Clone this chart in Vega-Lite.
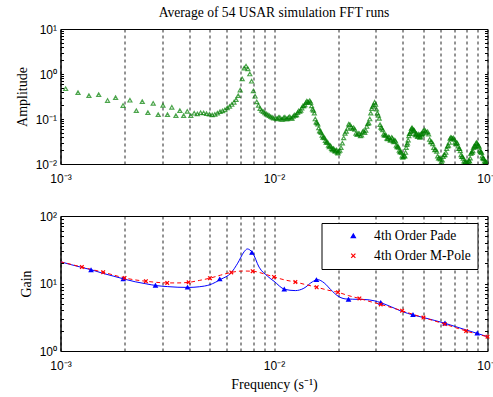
{
  "$schema": "https://vega.github.io/schema/vega-lite/v6.json",
  "padding": {"left": 14.5, "top": 5, "right": 4, "bottom": 2},
  "background": "white",
  "spacing": 24,
  "config": {
    "view": {"stroke": "black", "strokeWidth": 1},
    "axis": {"labelFont": "Liberation Sans", "labelFontSize": 12, "labelColor": "black", "titleFont": "Liberation Serif", "titleFontSize": 14, "titleFontWeight": "normal", "titleColor": "black", "domainColor": "black", "tickColor": "black", "grid": false, "labelFlush": false, "labelOverlap": false},
    "title": {"font": "Liberation Serif", "fontSize": 13.6, "fontWeight": "normal", "color": "black"},
    "legend": {"labelFont": "Liberation Serif", "labelFontSize": 13.6, "labelColor": "black", "strokeColor": "black", "fillColor": "white", "padding": 6, "symbolOffset": 19, "labelOffset": 14, "rowPadding": 5, "symbolSize": 18, "symbolStrokeWidth": 1.2, "cornerRadius": 0}
  },
  "datasets": {
    "top": [
      {"f":0.001057,"a":0.47},{"f":0.001208,"a":0.386},{"f":0.001359,"a":0.331},{"f":0.00151,"a":0.348},{"f":0.001661,"a":0.257},{"f":0.001812,"a":0.299},{"f":0.001963,"a":0.199},{"f":0.002114,"a":0.261},{"f":0.002265,"a":0.153},{"f":0.002416,"a":0.244},{"f":0.002567,"a":0.139},{"f":0.002718,"a":0.223},{"f":0.002869,"a":0.125},{"f":0.00302,"a":0.201},{"f":0.003171,"a":0.125},{"f":0.003322,"a":0.182},{"f":0.003473,"a":0.119},{"f":0.003624,"a":0.154},{"f":0.003775,"a":0.119},{"f":0.003926,"a":0.148},{"f":0.004077,"a":0.118},{"f":0.004228,"a":0.134},{"f":0.004379,"a":0.13},{"f":0.00453,"a":0.138},{"f":0.004681,"a":0.136},{"f":0.004832,"a":0.132},{"f":0.004983,"a":0.128},{"f":0.005134,"a":0.123},{"f":0.005285,"a":0.127},{"f":0.005436,"a":0.135},{"f":0.005587,"a":0.146},{"f":0.005738,"a":0.152},{"f":0.005889,"a":0.16},{"f":0.00604,"a":0.176},{"f":0.006191,"a":0.19},{"f":0.006342,"a":0.21},{"f":0.006493,"a":0.235},{"f":0.006644,"a":0.27},{"f":0.006795,"a":0.33},{"f":0.006946,"a":0.44},{"f":0.007097,"a":0.78},{"f":0.007248,"a":1.35},{"f":0.007399,"a":1.5},{"f":0.00755,"a":1.3},{"f":0.007701,"a":1.0},{"f":0.007852,"a":0.69},{"f":0.008003,"a":0.42},{"f":0.008154,"a":0.32},{"f":0.008305,"a":0.24},{"f":0.008456,"a":0.2},{"f":0.008607,"a":0.17},{"f":0.008758,"a":0.155},{"f":0.008909,"a":0.145},{"f":0.00906,"a":0.137},{"f":0.009211,"a":0.13},{"f":0.009362,"a":0.124},{"f":0.009513,"a":0.118},{"f":0.009664,"a":0.112},{"f":0.009815,"a":0.108},{"f":0.009966,"a":0.104},
      {"f":0.0102,"a":0.104},{"f":0.0105,"a":0.108},{"f":0.0108,"a":0.099},{"f":0.0111,"a":0.107},{"f":0.0114,"a":0.101},{"f":0.0117,"a":0.109},{"f":0.012,"a":0.104},{"f":0.0123,"a":0.114},{"f":0.0126,"a":0.12},{"f":0.0129,"a":0.138},{"f":0.0132,"a":0.148},{"f":0.0135,"a":0.175},{"f":0.0138,"a":0.195},{"f":0.0141,"a":0.23},{"f":0.0144,"a":0.24},{"f":0.0147,"a":0.255},{"f":0.015,"a":0.195},{"f":0.0153,"a":0.155},{"f":0.0156,"a":0.1},{"f":0.0159,"a":0.082},{"f":0.0162,"a":0.063},{"f":0.0165,"a":0.052},{"f":0.0168,"a":0.043},{"f":0.0171,"a":0.04},{"f":0.0174,"a":0.033},{"f":0.0177,"a":0.031},{"f":0.018,"a":0.026},{"f":0.0183,"a":0.026},{"f":0.0186,"a":0.022},{"f":0.0189,"a":0.022},{"f":0.0192,"a":0.02},{"f":0.0195,"a":0.02},{"f":0.0198,"a":0.018},{"f":0.0201,"a":0.019},
      {"f":0.01035,"a":0.101},{"f":0.01065,"a":0.109},{"f":0.01095,"a":0.098},{"f":0.01125,"a":0.11},{"f":0.01155,"a":0.1},{"f":0.01185,"a":0.112},{"f":0.01215,"a":0.103},{"f":0.01245,"a":0.123},{"f":0.01275,"a":0.123},{"f":0.01305,"a":0.152},{"f":0.01335,"a":0.155},{"f":0.01365,"a":0.195},{"f":0.01395,"a":0.205},{"f":0.01425,"a":0.25},{"f":0.01455,"a":0.235},{"f":0.01485,"a":0.235},{"f":0.01515,"a":0.165},{"f":0.01545,"a":0.135},{"f":0.01575,"a":0.085},{"f":0.01605,"a":0.077},{"f":0.01635,"a":0.054},{"f":0.01665,"a":0.05},{"f":0.01695,"a":0.039},{"f":0.01725,"a":0.038},{"f":0.01755,"a":0.03},{"f":0.01785,"a":0.03},{"f":0.01815,"a":0.024},{"f":0.01845,"a":0.025},{"f":0.01875,"a":0.0205},{"f":0.01905,"a":0.022},{"f":0.01935,"a":0.019},{"f":0.01965,"a":0.0205},{"f":0.01995,"a":0.0175},{"f":0.02035,"a":0.02},
      {"f":0.0206,"a":0.023},{"f":0.0212,"a":0.038},{"f":0.0218,"a":0.053},{"f":0.0224,"a":0.077},{"f":0.023,"a":0.066},{"f":0.0236,"a":0.064},{"f":0.0242,"a":0.048},{"f":0.0248,"a":0.048},{"f":0.0254,"a":0.042},{"f":0.026,"a":0.052},{"f":0.0266,"a":0.05},{"f":0.0272,"a":0.068},{"f":0.0278,"a":0.082},{"f":0.0284,"a":0.135},{"f":0.029,"a":0.19},{"f":0.0296,"a":0.235},{"f":0.0302,"a":0.165},{"f":0.0308,"a":0.12},{"f":0.0314,"a":0.075},{"f":0.032,"a":0.062},{"f":0.0326,"a":0.046},{"f":0.0332,"a":0.045},{"f":0.0338,"a":0.037},{"f":0.0344,"a":0.04},{"f":0.035,"a":0.034},{"f":0.0356,"a":0.039},{"f":0.0362,"a":0.032},{"f":0.0368,"a":0.034},{"f":0.0374,"a":0.026},{"f":0.038,"a":0.025},{"f":0.0386,"a":0.02},{"f":0.0392,"a":0.019},{"f":0.0398,"a":0.015},{"f":0.0404,"a":0.0145},{"f":0.041,"a":0.015},{"f":0.0416,"a":0.023},{"f":0.0422,"a":0.029},{"f":0.0428,"a":0.042},{"f":0.0434,"a":0.048},{"f":0.044,"a":0.061},{"f":0.0446,"a":0.06},{"f":0.0452,"a":0.057},{"f":0.0458,"a":0.046},{"f":0.0464,"a":0.047},{"f":0.047,"a":0.041},{"f":0.0476,"a":0.046},{"f":0.0482,"a":0.039},{"f":0.0488,"a":0.046},{"f":0.0494,"a":0.044},{"f":0.05,"a":0.055},
      {"f":0.0209,"a":0.029},{"f":0.0215,"a":0.048},{"f":0.0221,"a":0.062},{"f":0.0227,"a":0.075},{"f":0.0233,"a":0.061},{"f":0.0239,"a":0.059},{"f":0.0245,"a":0.045},{"f":0.0251,"a":0.047},{"f":0.0257,"a":0.044},{"f":0.0263,"a":0.054},{"f":0.0269,"a":0.056},{"f":0.0275,"a":0.079},{"f":0.0281,"a":0.1},{"f":0.0287,"a":0.17},{"f":0.0293,"a":0.205},{"f":0.0299,"a":0.21},{"f":0.0305,"a":0.135},{"f":0.0311,"a":0.103},{"f":0.0317,"a":0.065},{"f":0.0323,"a":0.057},{"f":0.0329,"a":0.043},{"f":0.0335,"a":0.043},{"f":0.0341,"a":0.036},{"f":0.0347,"a":0.039},{"f":0.0353,"a":0.034},{"f":0.0359,"a":0.037},{"f":0.0365,"a":0.031},{"f":0.0371,"a":0.032},{"f":0.0377,"a":0.024},{"f":0.0383,"a":0.0235},{"f":0.0389,"a":0.0185},{"f":0.0395,"a":0.0178},{"f":0.0401,"a":0.014},{"f":0.0407,"a":0.0155},{"f":0.0413,"a":0.018},{"f":0.0419,"a":0.027},{"f":0.0425,"a":0.034},{"f":0.0431,"a":0.047},{"f":0.0437,"a":0.052},{"f":0.0443,"a":0.064},{"f":0.0449,"a":0.055},{"f":0.0455,"a":0.054},{"f":0.0461,"a":0.044},{"f":0.0467,"a":0.046},{"f":0.0473,"a":0.041},{"f":0.0479,"a":0.044},{"f":0.0485,"a":0.04},{"f":0.0491,"a":0.047},{"f":0.0497,"a":0.047},{"f":0.0506,"a":0.057},
      {"f":0.0512,"a":0.054},{"f":0.0524,"a":0.052},{"f":0.0536,"a":0.035},{"f":0.0548,"a":0.031},{"f":0.056,"a":0.023},{"f":0.0572,"a":0.021},{"f":0.0584,"a":0.015},{"f":0.0596,"a":0.0135},{"f":0.0608,"a":0.0112},{"f":0.062,"a":0.0145},{"f":0.0632,"a":0.016},{"f":0.0644,"a":0.022},{"f":0.0656,"a":0.026},{"f":0.0668,"a":0.037},{"f":0.068,"a":0.038},{"f":0.0692,"a":0.038},{"f":0.0704,"a":0.03},{"f":0.0716,"a":0.03},{"f":0.0728,"a":0.025},{"f":0.074,"a":0.022},{"f":0.0752,"a":0.016},{"f":0.0764,"a":0.0145},{"f":0.0776,"a":0.0115},{"f":0.0788,"a":0.0112},{"f":0.08,"a":0.0103},{"f":0.0812,"a":0.0112},{"f":0.0824,"a":0.0115},{"f":0.0836,"a":0.017},{"f":0.0848,"a":0.018},{"f":0.086,"a":0.023},{"f":0.0872,"a":0.024},{"f":0.0884,"a":0.029},{"f":0.0896,"a":0.028},{"f":0.0908,"a":0.026},{"f":0.092,"a":0.02},{"f":0.0932,"a":0.019},{"f":0.0944,"a":0.015},{"f":0.0956,"a":0.0135},{"f":0.0968,"a":0.0115},{"f":0.098,"a":0.0112},{"f":0.0992,"a":0.0102},{"f":0.1,"a":0.0112},
      {"f":0.0518,"a":0.05},{"f":0.053,"a":0.046},{"f":0.0542,"a":0.031},{"f":0.0554,"a":0.028},{"f":0.0566,"a":0.0205},{"f":0.0578,"a":0.019},{"f":0.059,"a":0.0135},{"f":0.0602,"a":0.0128},{"f":0.0614,"a":0.0122},{"f":0.0626,"a":0.016},{"f":0.0638,"a":0.018},{"f":0.065,"a":0.025},{"f":0.0662,"a":0.03},{"f":0.0674,"a":0.039},{"f":0.0686,"a":0.036},{"f":0.0698,"a":0.035},{"f":0.071,"a":0.028},{"f":0.0722,"a":0.029},{"f":0.0734,"a":0.022},{"f":0.0746,"a":0.0195},{"f":0.0758,"a":0.0145},{"f":0.077,"a":0.0133},{"f":0.0782,"a":0.0108},{"f":0.0794,"a":0.0112},{"f":0.0806,"a":0.0103},{"f":0.0818,"a":0.012},{"f":0.083,"a":0.0135},{"f":0.0842,"a":0.0183},{"f":0.0854,"a":0.0195},{"f":0.0866,"a":0.025},{"f":0.0878,"a":0.025},{"f":0.089,"a":0.03},{"f":0.0902,"a":0.0255},{"f":0.0914,"a":0.024},{"f":0.0926,"a":0.0185},{"f":0.0938,"a":0.0178},{"f":0.095,"a":0.0136},{"f":0.0962,"a":0.013},{"f":0.0974,"a":0.0108},{"f":0.0986,"a":0.011}
    ],
    "bline": [
      {"f":0.001,"g":21.0},{"f":0.001122,"g":19.0},{"f":0.001259,"g":17.3},{"f":0.001413,"g":15.8},{"f":0.001585,"g":14.1},{"f":0.001778,"g":12.8},{"f":0.001995,"g":11.6},{"f":0.002239,"g":10.6},{"f":0.002512,"g":9.9},{"f":0.002818,"g":9.3},{"f":0.003162,"g":9.0},{"f":0.003548,"g":8.8},{"f":0.003981,"g":8.75},{"f":0.004467,"g":8.95},{"f":0.005012,"g":9.6},{"f":0.005623,"g":11.5},{"f":0.00631,"g":14.5},{"f":0.006761,"g":20},{"f":0.007244,"g":29.5},{"f":0.0075,"g":32.5},{"f":0.0077,"g":31.5},{"f":0.007943,"g":28.4},{"f":0.008511,"g":17.5},{"f":0.009333,"g":12.8},{"f":0.01,"g":10.8},{"f":0.01122,"g":8.2},{"f":0.01259,"g":7.85},{"f":0.0138,"g":8.5},{"f":0.01514,"g":10.6},{"f":0.016,"g":11.4},{"f":0.01718,"g":10.2},{"f":0.01845,"g":8.1},{"f":0.01995,"g":6.5},{"f":0.02173,"g":5.9},{"f":0.02339,"g":5.85},{"f":0.02642,"g":5.8},{"f":0.02944,"g":5.55},{"f":0.03162,"g":5.2},{"f":0.03548,"g":4.5},{"f":0.03981,"g":3.85},{"f":0.04467,"g":3.43},{"f":0.05012,"g":3.13},{"f":0.05623,"g":2.85},{"f":0.0631,"g":2.58},{"f":0.07079,"g":2.3},{"f":0.07943,"g":2.05},{"f":0.08913,"g":1.83},{"f":0.1,"g":1.63}
    ],
    "rline": [
      {"f":0.001,"g":21.0},{"f":0.001122,"g":19.2},{"f":0.001259,"g":17.5},{"f":0.001413,"g":16.0},{"f":0.001585,"g":14.7},{"f":0.001778,"g":13.3},{"f":0.001995,"g":12.1},{"f":0.002239,"g":11.3},{"f":0.002512,"g":10.8},{"f":0.002818,"g":10.4},{"f":0.003162,"g":10.2},{"f":0.003548,"g":10.2},{"f":0.003981,"g":10.4},{"f":0.004467,"g":11.1},{"f":0.005012,"g":12.0},{"f":0.005623,"g":13.3},{"f":0.00631,"g":14.6},{"f":0.007079,"g":15.3},{"f":0.007943,"g":15.2},{"f":0.008913,"g":14.0},{"f":0.01,"g":12.5},{"f":0.01122,"g":11.3},{"f":0.01259,"g":10.5},{"f":0.01413,"g":9.6},{"f":0.01585,"g":8.8},{"f":0.01778,"g":8.0},{"f":0.01995,"g":7.4},{"f":0.02239,"g":6.6},{"f":0.02512,"g":6.0},{"f":0.02818,"g":5.4},{"f":0.03162,"g":4.9},{"f":0.03548,"g":4.4},{"f":0.03981,"g":3.95},{"f":0.04467,"g":3.5},{"f":0.05012,"g":3.13},{"f":0.05623,"g":2.8},{"f":0.0631,"g":2.5},{"f":0.07079,"g":2.22},{"f":0.07943,"g":1.98},{"f":0.08913,"g":1.78},{"f":0.1,"g":1.63}
    ],
    "marks": [
      {"f":0.00139,"g":15.8,"s":"4th Order Pade"},{"f":0.001968,"g":11.6,"s":"4th Order Pade"},{"f":0.002786,"g":9.35,"s":"4th Order Pade"},{"f":0.003936,"g":8.75,"s":"4th Order Pade"},{"f":0.005572,"g":11.6,"s":"4th Order Pade"},{"f":0.00788,"g":28.6,"s":"4th Order Pade"},{"f":0.01117,"g":8.2,"s":"4th Order Pade"},{"f":0.01581,"g":11.3,"s":"4th Order Pade"},{"f":0.02234,"g":5.8,"s":"4th Order Pade"},{"f":0.03162,"g":5.2,"s":"4th Order Pade"},{"f":0.04477,"g":3.43,"s":"4th Order Pade"},{"f":0.06324,"g":2.58,"s":"4th Order Pade"},{"f":0.08954,"g":1.83,"s":"4th Order Pade"},
      {"f":0.001259,"g":17.5,"s":"4th Order M-Pole"},{"f":0.001585,"g":14.7,"s":"4th Order M-Pole"},{"f":0.001995,"g":12.1,"s":"4th Order M-Pole"},{"f":0.002512,"g":10.8,"s":"4th Order M-Pole"},{"f":0.003162,"g":10.2,"s":"4th Order M-Pole"},{"f":0.003981,"g":10.4,"s":"4th Order M-Pole"},{"f":0.005012,"g":12.0,"s":"4th Order M-Pole"},{"f":0.00631,"g":14.6,"s":"4th Order M-Pole"},{"f":0.007943,"g":15.2,"s":"4th Order M-Pole"},{"f":0.01,"g":12.5,"s":"4th Order M-Pole"},{"f":0.01259,"g":10.5,"s":"4th Order M-Pole"},{"f":0.01585,"g":8.8,"s":"4th Order M-Pole"},{"f":0.01995,"g":7.4,"s":"4th Order M-Pole"},{"f":0.02512,"g":6.0,"s":"4th Order M-Pole"},{"f":0.03162,"g":4.9,"s":"4th Order M-Pole"},{"f":0.03981,"g":3.95,"s":"4th Order M-Pole"},{"f":0.05012,"g":3.13,"s":"4th Order M-Pole"},{"f":0.0631,"g":2.5,"s":"4th Order M-Pole"},{"f":0.07943,"g":1.98,"s":"4th Order M-Pole"},{"f":0.1,"g":1.63,"s":"4th Order M-Pole"}
    ]
  },
  "vconcat": [
    {
      "width": 427,
      "height": 135,
      "title": {"text": "Average of 54 USAR simulation FFT runs", "offset": 3, "frame": "group"},
      "data": {"name": "top"},
      "layer": [
        {
          "mark": {"type": "point", "shape": "triangle-up", "filled": false, "color": "#007f00", "size": 16, "strokeWidth": 1.2, "clip": true},
          "encoding": {
            "x": {"field": "f", "type": "quantitative", "scale": {"type": "log", "domain": [0.001, 0.1]},
              "axis": {"title": null, "values": [0.001,0.002,0.003,0.004,0.005,0.006,0.007,0.008,0.009,0.01,0.02,0.03,0.04,0.05,0.06,0.07,0.08,0.09,0.1],
                "labelExpr": "datum.value == 0.001 ? '10⁻³' : datum.value == 0.01 ? '10⁻²' : datum.value == 0.1 ? '10⁻¹' : ''",
                "grid": true, "gridDash": [3, 3], "gridColor": "black", "gridOpacity": 0.85, "ticks": false, "labelPadding": 9}},
            "y": {"field": "a", "type": "quantitative", "scale": {"type": "log", "domain": [0.01, 10]},
              "axis": {"title": "Amplitude", "titlePadding": 6, "values": [0.01,0.02,0.03,0.04,0.05,0.06,0.07,0.08,0.09,0.1,0.2,0.3,0.4,0.5,0.6,0.7,0.8,0.9,1,2,3,4,5,6,7,8,9,10],
                "labelExpr": "datum.value == 10 ? '10¹' : datum.value == 1 ? '10⁰' : datum.value == 0.1 ? '10⁻¹' : datum.value == 0.01 ? '10⁻²' : ''",
                "tickSize": -3, "labelPadding": 7}}
          }
        },
        {
          "mark": {"type": "point", "opacity": 0},
          "encoding": {
            "x": {"field": "f", "type": "quantitative"},
            "y": {"field": "a", "type": "quantitative",
              "axis": {"orient": "right", "title": null, "labels": false, "domain": false, "tickSize": -3, "values": [0.01,0.02,0.03,0.04,0.05,0.06,0.07,0.08,0.09,0.1,0.2,0.3,0.4,0.5,0.6,0.7,0.8,0.9,1,2,3,4,5,6,7,8,9,10]}}
          }
        }
      ],
      "resolve": {"axis": {"y": "independent"}}
    },
    {
      "width": 427,
      "height": 135,
      "layer": [
        {
          "data": {"name": "bline"},
          "mark": {"type": "line", "color": "#0000ff", "strokeWidth": 1, "interpolate": "monotone", "clip": true},
          "encoding": {
            "x": {"field": "f", "type": "quantitative", "scale": {"type": "log", "domain": [0.001, 0.1]},
              "axis": {"title": "Frequency (s⁻¹)", "titlePadding": 6, "values": [0.001,0.002,0.003,0.004,0.005,0.006,0.007,0.008,0.009,0.01,0.02,0.03,0.04,0.05,0.06,0.07,0.08,0.09,0.1],
                "labelExpr": "datum.value == 0.001 ? '10⁻³' : datum.value == 0.01 ? '10⁻²' : datum.value == 0.1 ? '10⁻¹' : ''",
                "grid": true, "gridDash": [3, 3], "gridColor": "black", "gridOpacity": 0.85, "ticks": false, "labelPadding": 9}},
            "y": {"field": "g", "type": "quantitative", "scale": {"type": "log", "domain": [1, 100]},
              "axis": {"title": "Gain", "titlePadding": 6, "values": [1,2,3,4,5,6,7,8,9,10,20,30,40,50,60,70,80,90,100],
                "labelExpr": "datum.value == 100 ? '10²' : datum.value == 10 ? '10¹' : datum.value == 1 ? '10⁰' : ''",
                "tickSize": -3, "labelPadding": 7}}
          }
        },
        {
          "data": {"name": "rline"},
          "mark": {"type": "line", "color": "#ff0000", "strokeWidth": 1, "strokeDash": [4, 3], "interpolate": "monotone", "clip": true},
          "encoding": {
            "x": {"field": "f", "type": "quantitative"},
            "y": {"field": "g", "type": "quantitative", "axis": null}
          }
        },
        {
          "data": {"name": "marks"},
          "mark": {"type": "point", "filled": false, "size": 13, "strokeWidth": 1.2, "opacity": 1},
          "encoding": {
            "x": {"field": "f", "type": "quantitative"},
            "y": {"field": "g", "type": "quantitative", "axis": null},
            "color": {"field": "s", "type": "nominal", "scale": {"domain": ["4th Order Pade", "4th Order M-Pole"], "range": ["#0000ff", "#ff0000"]},
              "legend": {"orient": "none", "legendX": 261, "legendY": 194, "title": null}},
            "shape": {"field": "s", "type": "nominal", "scale": {"domain": ["4th Order Pade", "4th Order M-Pole"], "range": ["triangle-up", "M-1,-1L1,1M-1,1L1,-1"]},
              "legend": {"orient": "none", "legendX": 261, "legendY": 194, "title": null}},
            "fill": {"field": "s", "type": "nominal", "scale": {"domain": ["4th Order Pade", "4th Order M-Pole"], "range": ["#0000ff", "transparent"]},
              "legend": null}
          }
        },
        {
          "data": {"name": "rline"},
          "mark": {"type": "point", "opacity": 0},
          "encoding": {
            "x": {"field": "f", "type": "quantitative"},
            "y": {"field": "g", "type": "quantitative",
              "axis": {"orient": "right", "title": null, "labels": false, "domain": false, "tickSize": -3, "values": [1,2,3,4,5,6,7,8,9,10,20,30,40,50,60,70,80,90,100]}}
          }
        }
      ],
      "resolve": {"axis": {"y": "independent"}}
    }
  ]
}
